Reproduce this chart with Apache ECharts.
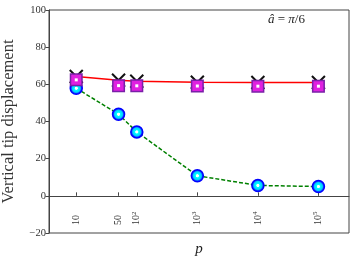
<!DOCTYPE html>
<html><head><meta charset="utf-8">
<script src="https://cdn.jsdelivr.net/npm/echarts@6/dist/echarts.min.js"></script>
<style>html,body{margin:0;padding:0;background:#fff}#c{width:357px;height:258px}</style>
</head><body><div id="c"></div>
<script>
var pValues = [10, 50, 100, 1000, 10000, 100000];
var xTickLabels = ['10', '50', '10{s|2}', '10{s|3}', '10{s|4}', '10{s|5}'];
var redLine = [64.2, 62.2, 61.7, 61.1, 61.0, 61.0];
var squareVals = [62.4, 59.3, 59.2, 59.1, 59.0, 59.0];
var greenVals = [57.9, 43.9, 34.4, 10.8, 5.6, 5.0];
var yTicks = [-20, 0, 20, 40, 60, 80, 100];

function pts(vals){ return pValues.map(function(p,i){ return [Math.log10(p), vals[i]]; }); }
var xTickPos = pValues.map(function(p){ return Math.log10(p); });
var FONT = 'Liberation Serif';

var chart = echarts.init(document.getElementById('c'), null, {renderer:'canvas'});
chart.setOption({
  animation:false,
  backgroundColor:'#fff',
  grid:{left:49, right:8, top:10, bottom:25, show:true, borderColor:'#444', borderWidth:1, containLabel:false, outerBoundsMode:'none'},
  xAxis:{
    type:'value', min:0.55, max:5.505,
    name:'p', nameLocation:'middle', nameGap:9,
    nameTextStyle:{fontFamily:FONT, fontStyle:'italic', fontSize:15, color:'#222'},
    axisLine:{lineStyle:{color:'#444', width:1}},
    splitLine:{show:false},
    axisTick:{inside:true, length:3.5, lineStyle:{color:'#444'}, customValues:xTickPos},
    axisLabel:{inside:true, rotate:90, margin:8, customValues:xTickPos,
      fontFamily:FONT, fontSize:10, color:'#333',
      formatter:function(v){ var i=-1; for(var k=0;k<xTickPos.length;k++){ if(Math.abs(xTickPos[k]-v)<1e-6) i=k; } return i>=0?xTickLabels[i]:''; },
      rich:{s:{fontFamily:FONT, fontSize:7, color:'#333', verticalAlign:'top', padding:[0,0,6,0]}}
    }
  },
  yAxis:{
    type:'value', min:-20, max:100, interval:20,
    name:'Vertical tip displacement', nameLocation:'middle', nameGap:32,
    nameTextStyle:{fontFamily:FONT, fontSize:16.5, color:'#333'},
    axisLine:{show:true, lineStyle:{color:'#444', width:1}},
    splitLine:{show:false},
    axisTick:{show:true, length:3.5, lineStyle:{color:'#444'}},
    axisLabel:{margin:3, fontFamily:FONT, fontSize:10.5, color:'#333',
      formatter:function(v){ return v<0 ? '\u2212'+Math.abs(v) : String(v); }}
  },
  graphic:[{type:'text', left:268, top:13, style:{
    text:'{i|\u00e2} = {i|\u03c0}/6', fontFamily:FONT, fontSize:13, fill:'#222',
    rich:{i:{fontFamily:FONT, fontStyle:'italic', fontSize:13, fill:'#222'}}
  }}],
  series:[
    {type:'line', data:pts(greenVals), z:2, silent:true,
      lineStyle:{color:'#008000', width:1.5, type:[4,2]},
      symbol:'circle', symbolSize:12,
      itemStyle:{borderColor:'#0000ff', borderWidth:1.5,
        color:{type:'radial', x:0.5, y:0.5, r:0.5, colorStops:[
          {offset:0, color:'#ffffff'},{offset:0.18, color:'#ffffff'},{offset:0.28, color:'#00ffff'},
          {offset:0.6, color:'#00d0ff'},{offset:0.72, color:'#1060ff'},{offset:1, color:'#0000ff'}]}}},
    {type:'line', data:pts(redLine), z:3, silent:true,
      lineStyle:{color:'#ff0000', width:1.5},
      symbol:'path://M0,0L10,10M10,0L0,10', symbolSize:13,
      itemStyle:{color:'rgba(0,0,0,0)', borderColor:'#111', borderWidth:2}},
    {type:'scatter', data:pts(squareVals), z:4, silent:true,
      symbol:'rect', symbolSize:11.5,
      itemStyle:{color:'#e020e0', borderColor:'#7a1fa8', borderWidth:1.5, opacity:1}},
    {type:'scatter', data:pts(squareVals), z:5, silent:true,
      symbol:'rect', symbolSize:3,
      itemStyle:{color:'#ffffff', opacity:1}}
  ]
});
</script></body></html>
